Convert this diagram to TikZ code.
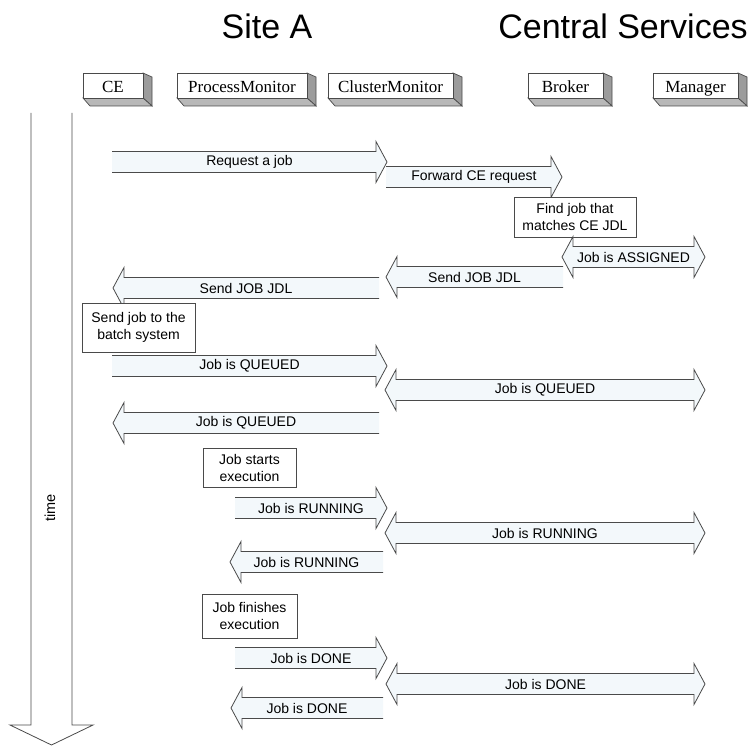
\documentclass[tikz,border=0pt]{standalone}
\usepackage{fontspec}
\setmainfont{Liberation Serif}
\newfontfamily\arialf{Liberation Sans}

% block message arrows: shaft half-height 10.5, head half-height 20.5, head length 11
\newcommand\msgright[5]{% name, tail x, tip x, y, label
  \coordinate (#1-a) at (#2,#4);
  \coordinate (#1-b) at (#3,#4);
  \fill[msgfill] (#2,#4-10.5) -- (#3-11,#4-10.5) -- (#3-11,#4-20.5) -- (#3,#4)
     -- (#3-11,#4+20.5) -- (#3-11,#4+10.5) -- (#2,#4+10.5) -- cycle;
  \draw[msgline] (#2,#4-10.5) -- (#3-11,#4-10.5) -- (#3-11,#4-20.5) -- (#3,#4)
     -- (#3-11,#4+20.5) -- (#3-11,#4+10.5) -- (#2,#4+10.5);
  \node[msglabel] (#1) at ($(#1-a)!0.5!(#1-b)$) {#5};
}
\newcommand\msgleft[5]{% name, tip x, tail x, y, label
  \coordinate (#1-a) at (#2,#4);
  \coordinate (#1-b) at (#3,#4);
  \fill[msgfill] (#3,#4-10.5) -- (#2+11,#4-10.5) -- (#2+11,#4-20.5) -- (#2,#4)
     -- (#2+11,#4+20.5) -- (#2+11,#4+10.5) -- (#3,#4+10.5) -- cycle;
  \draw[msgline] (#3,#4-10.5) -- (#2+11,#4-10.5) -- (#2+11,#4-20.5) -- (#2,#4)
     -- (#2+11,#4+20.5) -- (#2+11,#4+10.5) -- (#3,#4+10.5);
  \node[msglabel] (#1) at ($(#1-a)!0.5!(#1-b)$) {#5};
}
\newcommand\msgboth[5]{% name, left tip x, right tip x, y, label
  \coordinate (#1-a) at (#2,#4);
  \coordinate (#1-b) at (#3,#4);
  \filldraw[msgfill,msgline] (#2,#4) -- (#2+11,#4-20.5) -- (#2+11,#4-10.5)
     -- (#3-11,#4-10.5) -- (#3-11,#4-20.5) -- (#3,#4) -- (#3-11,#4+20.5)
     -- (#3-11,#4+10.5) -- (#2+11,#4+10.5) -- (#2+11,#4+20.5) -- cycle;
  \node[msglabel] (#1) at ($(#1-a)!0.5!(#1-b)$) {#5};
}
% participant box with a shaded right side and bottom
\newcommand\actor[6]{% name, x1, x2, y1, y2, text
  \fill[sidegray,draw=edge,line width=0.7pt] (#3,#4) -- (#3+9,#4+4) -- (#3+9,#5+8) -- (#3,#5) -- cycle;
  \fill[bottomgray,draw=edge,line width=0.7pt] (#2,#5) -- (#3,#5) -- (#3+9,#5+8) -- (#2+7,#5+8) -- cycle;
  \draw[edge,line width=0.7pt,fill=white] (#2,#4) rectangle (#3,#5);
  \node[actortext,anchor=base] (#1) at ({(#2+#3)/2},93) {#6};
}

\usetikzlibrary{calc}
\definecolor{edge}{HTML}{4A4A4A}
\definecolor{sidegray}{HTML}{9C9C9C}
\definecolor{bottomgray}{HTML}{B8B8B8}
\definecolor{paleblue}{HTML}{F3F8FB}

\tikzset{
  msgfill/.style={fill=paleblue},
  msgline/.style={draw=edge,line width=0.8pt,line join=miter},
  msglabel/.style={font=\arialf\fontsize{14}{16}\selectfont,inner sep=0pt},
  actortext/.style={font=\fontsize{17}{19}\selectfont,inner sep=0pt},
  taskbox/.style={draw=edge,line width=0.8pt,fill=white,align=center,inner sep=0pt,
    font=\arialf\fontsize{14}{17}\selectfont},
  titletext/.style={font=\arialf\fontsize{34}{40}\selectfont,inner sep=0pt}
}

\begin{document}
\begin{tikzpicture}[x=1pt,y=-1pt]
\useasboundingbox (0,0) rectangle (751,751);

% headings
\node[titletext] (siteA) at (267,26) {Site A};
\node[titletext] (central) at (623,26) {Central Services};

% participants
\actor{ce}{83}{143}{73}{98}{CE}
\actor{pm}{177}{307}{73}{98}{ProcessMonitor}
\actor{cm}{328}{453}{73}{98}{ClusterMonitor}
\actor{br}{528}{603}{73}{98}{Broker}
\actor{mg}{653}{738}{73}{98}{Manager}

% time axis
\filldraw[fill=white,draw=edge,line width=0.8pt]
  (31,113) -- (31,725) -- (10,725) -- (51.5,745) -- (93,725) -- (72,725) -- (72,113);
\node[font=\arialf\fontsize{14.5}{16}\selectfont,rotate=90,inner sep=0pt] (time) at (50,508) {time};

% messages
\msgright{m1}{112}{387}{162}{Request a job}
\msgright{m2}{386}{562}{177}{Forward CE request}
\node[taskbox,minimum width=122pt,minimum height=40pt] (find) at (575,217) {Find job that\\matches CE JDL};
\msgboth{m3}{562}{705}{257}{Job is ASSIGNED}
\msgleft{m4}{386}{563}{277}{Send JOB JDL}
\msgleft{m5}{113}{379}{288}{Send JOB JDL}
\node[taskbox,minimum width=113pt,minimum height=49pt] (batch) at (138.5,327.5) {Send job to the\\batch system};
\msgright{m6}{112}{387}{366}{Job is QUEUED}
\msgboth{m7}{385}{705}{390}{Job is QUEUED}
\msgleft{m8}{113}{379}{423}{Job is QUEUED}
\node[taskbox,minimum width=93pt,minimum height=39pt] (start) at (249.5,467.5) {Job starts\\execution};
\msgright{m9}{235}{387}{508}{Job is RUNNING}
\msgboth{m10}{385}{705}{533}{Job is RUNNING}
\msgleft{m11}{230}{383}{562}{Job is RUNNING}
\node[taskbox,minimum width=95pt,minimum height=44pt] (finish) at (249.5,616) {Job finishes\\execution};
\msgright{m12}{235}{387}{658}{Job is DONE}
\msgboth{m13}{386}{705}{684}{Job is DONE}
\msgleft{m14}{231}{383}{708}{Job is DONE}
\end{tikzpicture}
\end{document}
